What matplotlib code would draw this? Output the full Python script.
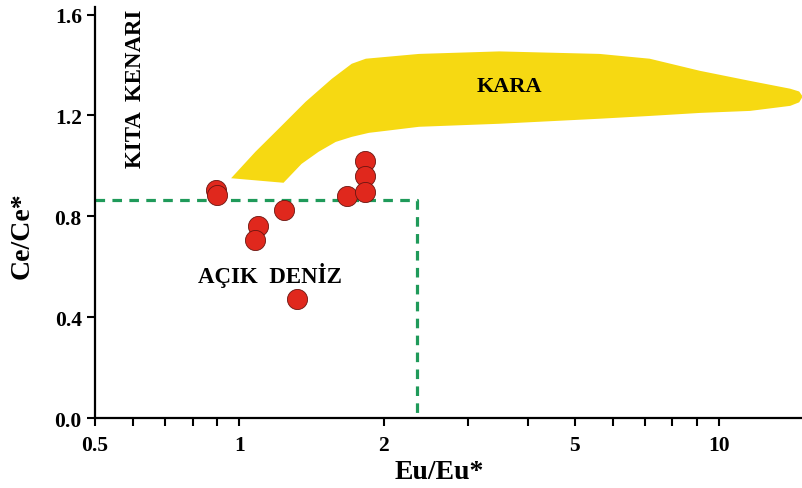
import matplotlib.pyplot as plt
from matplotlib.patches import Polygon

# Örnek noktaları (Eu/Eu*, Ce/Ce*)
eu = [0.895, 0.899, 1.096, 1.080, 1.236, 1.316, 1.674, 1.826, 1.826, 1.826]
ce = [0.905, 0.885, 0.762, 0.706, 0.825, 0.472, 0.881, 1.020, 0.960, 0.897]

# KARA alanının sınırı
kara_x = [0.961, 1.080, 1.207, 1.374, 1.558, 1.715, 1.835, 2.369, 3.482, 5.637,
          7.17, 9.126, 11.61, 14.08, 14.7, 14.95, 14.7,
          14.08, 11.61, 9.126, 7.17, 5.637, 3.482, 2.369, 2.020, 1.862,
          1.715, 1.588, 1.463, 1.348, 1.236]
kara_y = [0.951, 1.056, 1.147, 1.254, 1.345, 1.405, 1.425, 1.444, 1.454, 1.444,
          1.425, 1.377, 1.337, 1.306, 1.295, 1.275, 1.252,
          1.238, 1.218, 1.210, 1.198, 1.187, 1.167, 1.155, 1.139, 1.131,
          1.115, 1.095, 1.056, 1.008, 0.933]

# açık deniz sınırı (kesikli çizgi)
box_x = [0.5, 2.35, 2.35]
box_y = [0.865, 0.865, 0.0]

xticks = [0.5, 1, 2, 5, 10]
xtick_labels = ['0.5', '1', '2', '5', '10']
xminor = [0.6, 0.7, 0.8, 0.9, 3, 4, 6, 7, 8, 9]
yticks = [0.0, 0.4, 0.8, 1.2, 1.6]
ytick_labels = ['0.0', '0.4', '0.8', '1.2', '1.6']

plt.rcParams['font.family'] = ['Liberation Serif', 'DejaVu Serif']
plt.rcParams['font.weight'] = 'bold'

fig = plt.figure(figsize=(8.02, 4.89), dpi=100)
ax = fig.add_axes([0.1185, 0.1431, 0.8815, 0.8405])

ax.add_patch(Polygon(list(zip(kara_x, kara_y)), closed=True,
                     facecolor='#f6d912', edgecolor='none', zorder=1))
ax.plot(box_x, box_y, color='#1f9a5a', lw=2.3, dashes=(3, 2.3), zorder=2)
ax.scatter(eu, ce, s=210, c='#e0281d', edgecolors='#6a1510', linewidths=0.6, zorder=3)

ax.text(3.65, 1.317, 'KARA', ha='center', va='center', fontsize=16, fontweight='bold')
ax.text(1.161, 0.571, 'AÇIK  DENİZ', ha='center', va='center', fontsize=16.5, fontweight='bold')
ax.text(0.606, 1.31, 'KITA  KENARI', ha='center', va='center', rotation=90,
        fontsize=16.5, fontweight='bold')

ax.set_xscale('log')
ax.set_xlim(0.5, 14.9)
ax.set_ylim(0, 1.63)
ax.set_xticks(xticks)
ax.set_xticklabels(xtick_labels)
ax.set_xticks(xminor, minor=True)
ax.set_xticklabels([], minor=True)
ax.set_yticks(yticks)
ax.set_yticklabels(ytick_labels)

for s in ['top', 'right']:
    ax.spines[s].set_visible(False)
for s in ['left', 'bottom']:
    ax.spines[s].set_linewidth(1.6)

ax.tick_params(axis='both', which='both', direction='out', length=6, width=1.5,
               labelsize=15.5)
ax.tick_params(axis='x', pad=6)
ax.set_xlabel('Eu/Eu*', fontsize=20, fontweight='bold')
ax.set_ylabel('Ce/Ce*', fontsize=20, fontweight='bold')
ax.xaxis.set_label_coords(0.487, -0.131)
ax.yaxis.set_label_coords(-0.103, 0.445)
ax.xaxis.label.set_va('center')
ax.yaxis.label.set_va('center')

fig.savefig('out.png', dpi=100)
